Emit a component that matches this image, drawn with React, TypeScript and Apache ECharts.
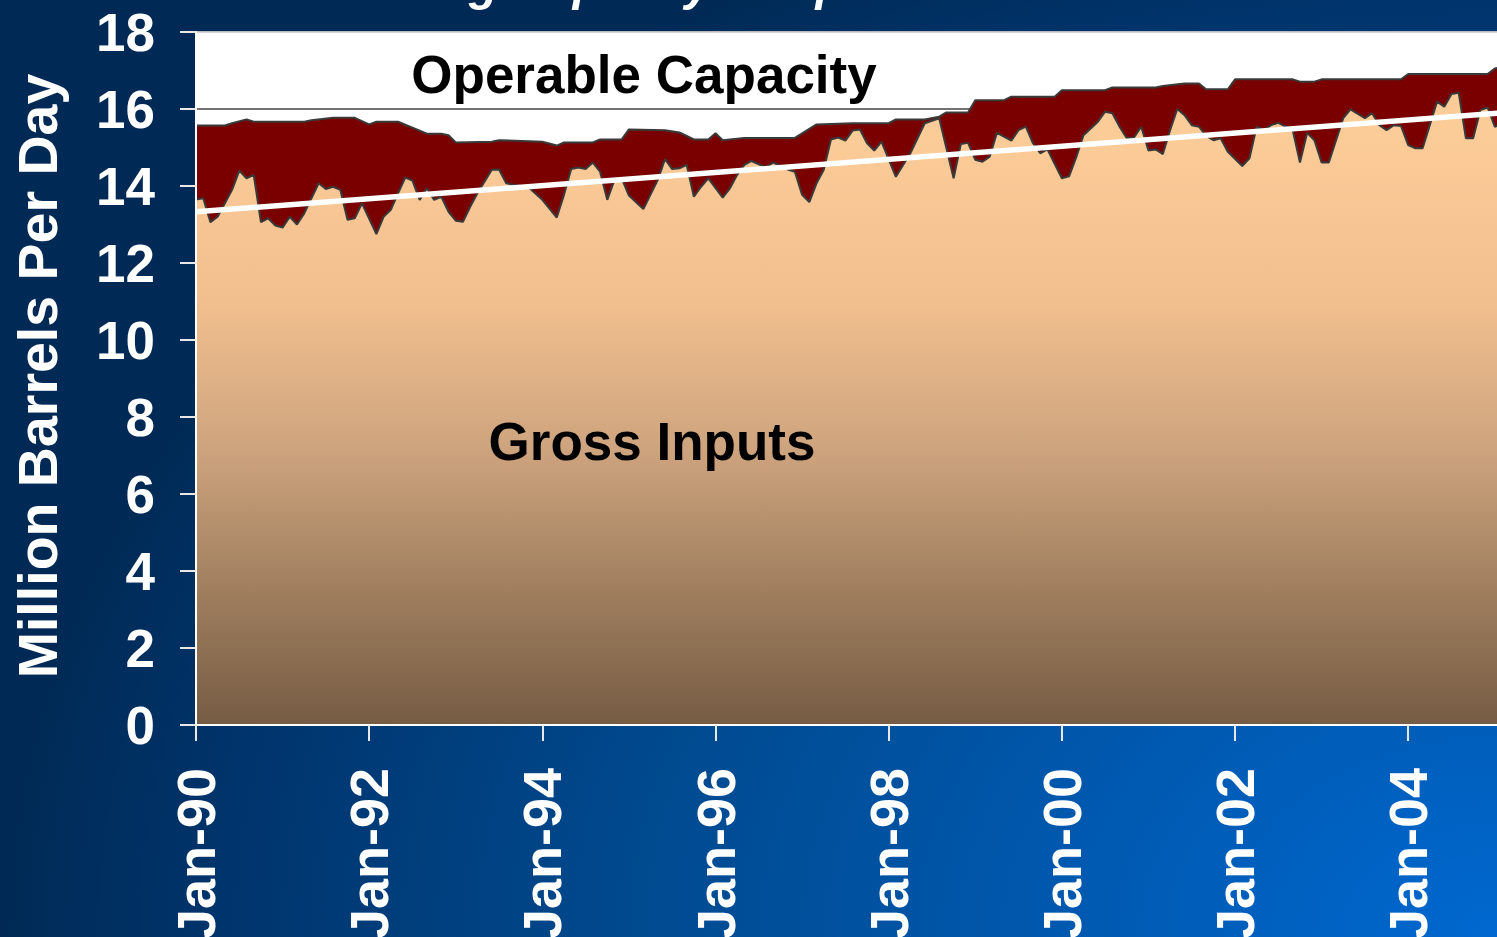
import React, { useEffect, useRef } from "react";
import * as echarts from "echarts";

// x = months since Jan-90
const xTickLabels = ["Jan-90", "Jan-92", "Jan-94", "Jan-96", "Jan-98", "Jan-00", "Jan-02", "Jan-04"];

const capacityData: [number, number][] = [
  [0, 15.57], [4, 15.57], [5, 15.63], [7, 15.73], [8, 15.67], [15, 15.67], [16, 15.71], [19, 15.77],
  [22, 15.77], [24, 15.6], [25, 15.67], [28, 15.67], [32, 15.36], [34, 15.36], [35, 15.32], [36, 15.13],
  [41, 15.15], [42, 15.19], [48, 15.15], [50, 15.05], [51, 15.13], [55, 15.13], [56, 15.21], [59, 15.21],
  [60, 15.47], [65, 15.45], [67, 15.39], [69, 15.21], [71, 15.21], [72, 15.37], [73, 15.19], [76, 15.25],
  [83, 15.25], [86, 15.6], [91, 15.63], [96, 15.63], [97, 15.73], [101, 15.73], [103, 15.8], [104, 15.91],
  [107, 15.91], [108, 16.23], [112, 16.23], [113, 16.32], [119, 16.32], [120, 16.49], [126, 16.49],
  [127, 16.56], [133, 16.56], [134, 16.6], [137, 16.66], [139, 16.66], [140, 16.51], [143, 16.51],
  [144, 16.77], [152, 16.77], [153, 16.71], [155, 16.71], [156, 16.77], [167, 16.77], [168, 16.91],
  [179, 16.91], [180, 17.05], [181, 17.1],
];

const inputsData: [number, number][] = [
  [0, 13.65], [1, 13.68], [2, 13.06], [3, 13.2], [5, 13.9], [6, 14.4], [7, 14.2], [8, 14.29], [9, 13.06],
  [10, 13.16], [11, 12.97], [12, 12.92], [13, 13.2], [14, 13.0], [15, 13.29], [17, 14.07], [18, 13.92],
  [19, 13.98], [20, 13.9], [21, 13.12], [22, 13.16], [23, 13.55], [25, 12.75], [26, 13.2], [27, 13.38],
  [28, 13.81], [29, 14.22], [30, 14.14], [31, 13.64], [32, 13.94], [33, 13.64], [34, 13.72], [35, 13.33],
  [36, 13.1], [37, 13.07], [38, 13.46], [39, 13.81], [41, 14.42], [42, 14.43], [43, 14.07], [44, 14.03],
  [46, 13.98], [48, 13.64], [50, 13.18], [51, 13.77], [52, 14.44], [53, 14.48], [54, 14.44], [55, 14.61],
  [56, 14.37], [57, 13.64], [58, 14.16], [59, 14.2], [60, 13.75], [62, 13.4], [64, 14.16], [65, 14.7],
  [66, 14.44], [67, 14.46], [68, 14.55], [69, 13.72], [70, 13.98], [71, 14.2], [73, 13.7], [74, 13.94],
  [75, 14.29], [76, 14.55], [77, 14.65], [79, 14.48], [80, 14.61], [82, 14.43], [83, 14.37], [84, 13.77],
  [85, 13.58], [86, 14.07], [87, 14.42], [88, 15.21], [89, 15.26], [90, 15.18], [91, 15.44], [92, 15.47],
  [93, 15.11], [94, 14.92], [95, 15.15], [97, 14.24], [99, 14.85], [100, 15.24], [101, 15.63], [103, 15.76],
  [105, 14.2], [106, 15.09], [107, 15.12], [108, 14.68], [109, 14.63], [110, 14.76], [111, 15.38],
  [113, 15.18], [114, 15.45], [115, 15.54], [116, 15.11], [117, 14.85], [118, 14.95], [120, 14.2],
  [121, 14.25], [122, 14.75], [123, 15.32], [125, 15.67], [126, 15.93], [127, 15.89], [128, 15.54],
  [129, 15.24], [130, 15.26], [131, 15.54], [132, 14.92], [133, 14.95], [134, 14.83], [135, 15.45],
  [136, 16.0], [137, 15.84], [138, 15.58], [139, 15.54], [140, 15.3], [141, 15.19], [142, 15.24],
  [143, 14.89], [145, 14.52], [146, 14.72], [147, 15.54], [148, 15.45], [149, 15.58], [150, 15.64],
  [152, 15.45], [153, 14.61], [154, 15.38], [155, 15.19], [156, 14.61], [157, 14.61], [159, 15.76],
  [160, 15.99], [162, 15.76], [163, 15.89], [164, 15.58], [165, 15.45], [166, 15.58], [167, 15.56],
  [168, 15.06], [169, 14.98], [170, 14.98], [172, 16.19], [173, 16.06], [174, 16.39], [175, 16.42],
  [176, 15.24], [177, 15.24], [178, 15.97], [179, 16.04], [180, 15.54], [181, 15.6],
];

const trendData: [number, number][] = [[0, 13.33], [181, 15.9]];

const FONT = '"Liberation Sans", Arial, Helvetica, sans-serif';

// chart canvas is a bit wider than the window so the plot runs off the right edge
const CHART_W = 1512;
const CHART_H = 937;

export default function App() {
  const ref = useRef<HTMLDivElement>(null);
  useEffect(() => {
    if (!ref.current) return;
    const chart = echarts.init(ref.current, undefined, { renderer: "svg" });
    const splitColors = ["#444444", "#444444", "#444444", "#444444", "#444444", "#444444", "#444444", "#444444", "#444444", "#cfcfcf"];
    const inputsFill = new echarts.graphic.LinearGradient(0, 140, 0, 725, [
      { offset: 0, color: "#fbcb98" },
      { offset: 0.28, color: "#f1bf8e" },
      { offset: 0.52, color: "#cfa57f" },
      { offset: 0.78, color: "#9e7d5d" },
      { offset: 1, color: "#765c44" },
    ], true);
    chart.setOption({
      animation: false,
      grid: {
        left: 196, top: 32, right: 10, bottom: 212,
        outerBoundsMode: "none",
        containLabel: false,
        show: true, backgroundColor: "#ffffff", borderColor: "#cfcfcf", borderWidth: 1,
      },
      xAxis: {
        type: "value", min: 0, max: 181, interval: 24, z: 10,
        axisLine: { show: true, onZero: false, lineStyle: { color: "#ffffff", width: 2 } },
        axisTick: { show: true, length: 16, lineStyle: { color: "#e8e8e8", width: 2 } },
        axisLabel: {
          rotate: 90, margin: 43, color: "#ffffff", fontSize: 54, fontWeight: "bold", fontFamily: FONT,
          showMaxLabel: false,
          formatter: (v: number) => xTickLabels[Math.round(v / 24)] ?? "",
        },
        splitLine: { show: false },
      },
      yAxis: [
        {
          type: "value", min: 0, max: 18, interval: 2,
          axisLine: { show: false }, axisTick: { show: false }, axisLabel: { show: false },
          splitLine: { show: true, lineStyle: { color: splitColors, width: 1.5 } },
        },
        {
          type: "value", min: 0, max: 18, interval: 2, position: "left", z: 10,
          axisLine: { show: true, lineStyle: { color: "#ffffff", width: 2 } },
          axisTick: { show: true, length: 16, lineStyle: { color: "#e8e8e8", width: 2 } },
          axisLabel: { margin: 41, color: "#ffffff", fontSize: 53, fontWeight: "bold", fontFamily: FONT },
          splitLine: { show: false },
        },
      ],
      series: [
        {
          name: "Operable Capacity", type: "line", data: capacityData, yAxisIndex: 0,
          showSymbol: false, symbol: "none", z: 2,
          lineStyle: { color: "#3a3a3a", width: 2 },
          areaStyle: { color: "#7a0000", opacity: 1 },
        },
        {
          name: "Gross Inputs", type: "line", data: inputsData, yAxisIndex: 0,
          showSymbol: false, symbol: "none", z: 3,
          lineStyle: { color: "#3a3a3a", width: 2 },
          areaStyle: { color: inputsFill, opacity: 1 },
        },
        {
          name: "Trend", type: "line", data: trendData, yAxisIndex: 0,
          showSymbol: false, symbol: "none", z: 4,
          lineStyle: { color: "#ffffff", width: 5.5 },
        },
      ],
      graphic: [
        {
          type: "text", x: 306, y: -16.6, z: 100,
          style: { text: "Refining Capacity & Inputs", fill: "#ffffff", font: `italic bold 48px ${FONT}`, align: "left", verticalAlign: "middle" },
        },
        {
          type: "text", x: 38, y: 376, rotation: Math.PI / 2, z: 100,
          style: { text: "Million Barrels Per Day", fill: "#ffffff", font: `bold 55.5px ${FONT}`, align: "center", verticalAlign: "middle" },
        },
        {
          type: "text", x: 644, y: 74, z: 100,
          style: { text: "Operable Capacity", fill: "#000000", font: `bold 53px ${FONT}`, align: "center", verticalAlign: "middle" },
        },
        {
          type: "text", x: 652, y: 441, z: 100,
          style: { text: "Gross Inputs", fill: "#000000", font: `bold 53px ${FONT}`, align: "center", verticalAlign: "middle" },
        },
      ],
    });
    return () => chart.dispose();
  }, []);
  return (
    <div
      style={{
        position: "fixed", left: 0, top: 0, width: 1497, height: 937, overflow: "hidden",
        background: "radial-gradient(1500px 1100px at 100% 100%, #0068d0 0%, #004a90 57%, #00346c 85%, #002a55 100%)",
      }}
    >
      <div ref={ref} style={{ position: "absolute", left: 0, top: 0, width: CHART_W, height: CHART_H }} />
    </div>
  );
}
